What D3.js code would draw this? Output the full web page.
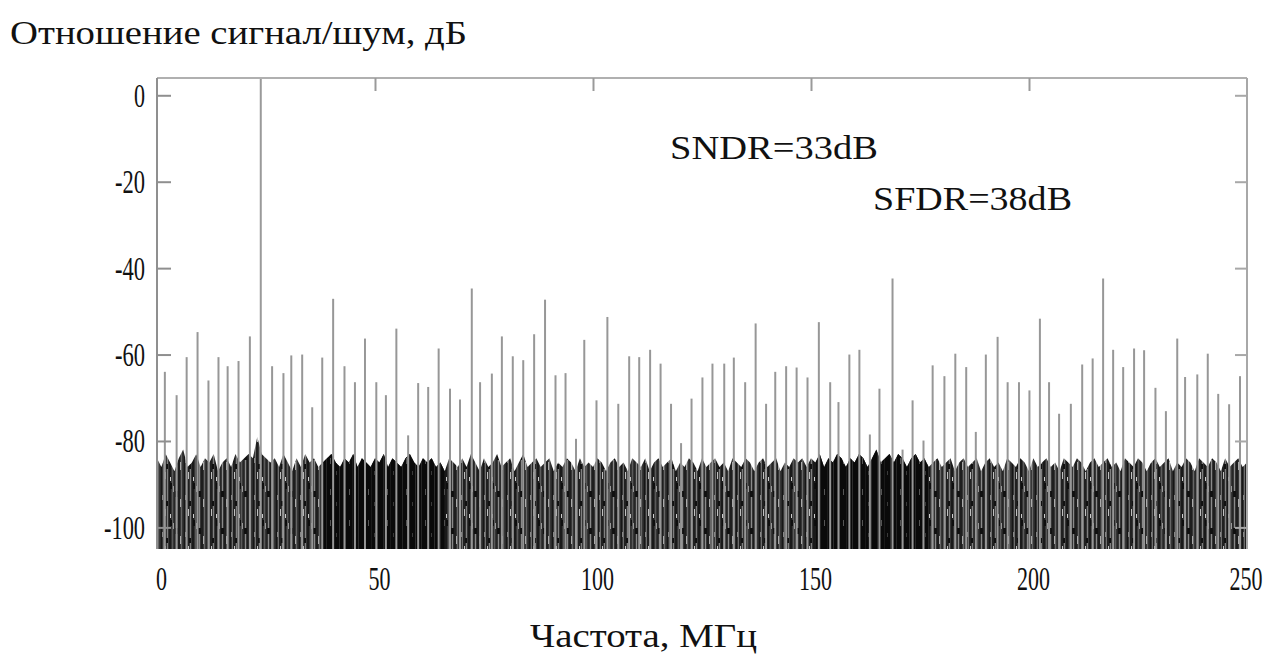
<!DOCTYPE html>
<html>
<head>
<meta charset="utf-8">
<script src="https://cdn.jsdelivr.net/npm/d3@7"></script>
<style>
  html, body { margin: 0; padding: 0; background: #fff; }
  svg { display: block; }
  text { font-family: "Liberation Serif", "Times New Roman", serif; fill: #111; }
</style>
</head>
<body>
<svg id="chart" width="1270" height="659"></svg>
<script>
// ---------- data ----------
const xTicks = [0, 50, 100, 150, 200, 250];
const yTicks = [0, -20, -40, -60, -80, -100];
const topTicks = [50, 100, 150, 200];
const sideTicks = [0, -20, -40, -60, -80, -100];

const fundamentalFreq = 23.8;   // MHz
const fundamentalLevel = 4;     // reaches the top of the frame

const spurFreq = [1.8, 4.5, 6.8, 9.3, 11.8, 14.1, 16.2, 18.7, 21.3, 26.4, 29.0, 30.8, 33.3, 35.6, 37.9,
  40.4, 43.0, 45.4, 47.7, 50.3, 52.5, 54.9, 57.6, 59.9, 62.2, 64.6, 67.2, 69.5, 72.2, 74.1, 76.8, 79.1,
  81.6, 84.0, 86.5, 89.0, 91.4, 93.7, 96.1, 98.0, 100.8, 103.3, 105.8, 108.3, 110.6, 113.1, 115.5, 117.9,
  120.2, 122.6, 125.1, 127.4, 130.1, 132.3, 134.9, 137.3, 139.7, 141.8, 144.3, 146.7, 149.2, 151.8, 154.4,
  156.3, 158.8, 161.1, 163.5, 165.7, 168.7, 171.0, 173.3, 175.8, 177.9, 180.6, 183.1, 185.6, 187.8, 190.1,
  192.8, 195.1, 197.7, 200.1, 202.5, 204.6, 206.9, 209.6, 212.2, 214.6, 217.0, 219.3, 221.6, 224.1, 226.4,
  229.0, 231.4, 234.0, 235.8, 238.6, 241.0, 243.4, 245.9, 248.4];
const spurLevel = [-64.0, -69.4, -60.6, -54.8, -66.0, -60.6, -62.7, -61.5, -55.8, -62.7, -64.3, -60.2, -60.0, -72.2, -60.7,
  -47.1, -62.7, -66.4, -56.3, -66.4, -69.4, -54.0, -78.7, -66.6, -67.5, -58.6, -67.9, -70.4, -44.7, -66.4, -64.4, -55.8,
  -60.4, -61.3, -55.3, -47.3, -64.8, -64.3, -79.5, -56.6, -70.6, -51.3, -71.4, -60.4, -60.6, -58.9, -62.1, -71.4,
  -80.5, -70.2, -65.3, -62.1, -62.1, -60.7, -66.4, -52.8, -71.4, -64.0, -62.7, -63.0, -65.3, -52.5, -66.4,
  -71.0, -60.0, -58.9, -78.5, -67.9, -42.4, -82.0, -70.6, -79.9, -62.5, -65.0, -59.8, -62.9, -77.9, -60.0,
  -55.9, -66.4, -66.4, -68.3, -51.7, -66.4, -73.7, -71.4, -62.3, -60.9, -42.4, -58.9, -62.9, -58.6, -59.0,
  -67.7, -73.1, -56.3, -65.2, -64.6, -59.8, -69.1, -71.5, -65.0];

// noise floor top (dB), one estimate per MHz from 0 to 250 MHz
const noiseStep = 1;
const noiseTop = [
  -84, -86, -83, -85, -87, -84, -82, -86, -85, -83,
  -86, -84, -85, -83, -87, -85, -84, -86, -83, -85,
  -84, -83, -84, -79, -83, -84, -85, -84, -86, -83,
  -85, -87, -84, -86, -83, -85, -84, -86, -85, -84,
  -83, -85, -86, -84, -85, -83, -86, -84, -85, -86,
  -84, -85, -83, -86, -84, -85, -86, -84, -83, -85,
  -86, -84, -85, -84, -86, -85, -87, -84, -85, -86,
  -84, -86, -83, -85, -87, -84, -86, -85, -83, -86,
  -85, -84, -87, -85, -83, -86, -85, -84, -86, -85,
  -84, -87, -85, -86, -84, -85, -87, -84, -86, -85,
  -86, -84, -85, -87, -85, -84, -86, -85, -87, -84,
  -85, -86, -84, -87, -85, -84, -86, -85, -84, -87,
  -85, -86, -84, -85, -87, -84, -86, -85, -84, -86,
  -85, -87, -84, -85, -86, -84, -85, -87, -85, -84,
  -86, -85, -84, -87, -85, -86, -84, -85, -84, -86,
  -84, -85, -83, -86, -84, -85, -83, -84, -86, -84,
  -85, -83, -84, -86, -84, -82, -85, -84, -83, -85,
  -83, -84, -86, -84, -83, -85, -84, -86, -85, -84,
  -86, -85, -84, -87, -85, -84, -86, -85, -84, -87,
  -85, -84, -86, -85, -87, -84, -85, -86, -84, -85,
  -87, -84, -86, -85, -84, -86, -85, -87, -84, -85,
  -86, -84, -85, -87, -85, -84, -86, -85, -84, -86,
  -85, -87, -84, -85, -86, -84, -85, -87, -85, -84,
  -86, -85, -84, -87, -85, -86, -84, -85, -87, -84,
  -85, -86, -84, -85, -87, -84, -86, -85, -84, -86,
  -85];
const noiseBottom = -105;
// frequency ranges where the noise floor is visibly denser (black)
const denseRanges = [[38, 66], [151, 177]];

const yTitle = "Отношение сигнал/шум, дБ";
const xTitle = "Частота, МГц";
const notes = ["SNDR=33dB", "SFDR=38dB"];

// ---------- chart ----------
const svg = d3.select("#chart");
const L = 157, R = 1247, T = 78, B = 549;
const x = d3.scaleLinear().domain([0, 250]).range([L, R]);
const y = d3.scaleLinear().domain([-105, 4]).range([B, T]);

const defs = svg.append("defs");
defs.append("clipPath").attr("id", "plotClip")
  .append("rect").attr("x", L).attr("y", T).attr("width", R - L).attr("height", B - T);

// textures for the noise floor
const pn = defs.append("pattern").attr("id", "noiseTex").attr("patternUnits", "userSpaceOnUse")
  .attr("width", 23).attr("height", 37);
pn.append("rect").attr("width", 23).attr("height", 37).attr("fill", "#363636");
[[0, 1, "#161616"], [2, 1, "#6e6e6e"], [3, 2, "#202020"], [6, 1, "#808080"], [8, 2, "#1a1a1a"],
 [11, 1, "#5a5a5a"], [13, 1, "#262626"], [15, 1, "#8a8a8a"], [17, 2, "#1e1e1e"], [20, 1, "#666"], [22, 1, "#2a2a2a"]]
  .forEach(s => pn.append("rect").attr("x", s[0]).attr("width", s[1]).attr("height", 37).attr("fill", s[2]));
[[14, 10, 3, 6, "#111"], [5, 20, 2, 5, "#111"], [9, 2, 2, 6, "#0e0e0e"],
 [4, 28, 1, 7, "#c0c0c0"], [12, 5, 1, 6, "#999"], [19, 18, 1, 8, "#aaa"], [9, 33, 1, 4, "#ccc"], [1, 14, 1, 5, "#888"]]
  .forEach(s => pn.append("rect").attr("x", s[0]).attr("y", s[1]).attr("width", s[2]).attr("height", s[3]).attr("fill", s[4]));

const pd = defs.append("pattern").attr("id", "denseTex").attr("patternUnits", "userSpaceOnUse")
  .attr("width", 19).attr("height", 31);
pd.append("rect").attr("width", 19).attr("height", 31).attr("fill", "#0a0a0a");
[[3, 1, "#262626"], [10, 1, "#1a1a1a"], [16, 1, "#2e2e2e"]]
  .forEach(s => pd.append("rect").attr("x", s[0]).attr("width", s[1]).attr("height", 31).attr("fill", s[2]));
[[7, 24, 1, 6, "#555"], [13, 6, 1, 4, "#3a3a3a"]]
  .forEach(s => pd.append("rect").attr("x", s[0]).attr("y", s[1]).attr("width", s[2]).attr("height", s[3]).attr("fill", s[4]));

const noiseData = noiseTop.map((v, i) => ({ f: i * noiseStep, v }));
const noiseArea = d3.area().x(d => x(d.f)).y0(y(noiseBottom)).y1(d => y(d.v));

defs.append("clipPath").attr("id", "noiseClip")
  .append("path").attr("d", noiseArea(noiseData));

const plot = svg.append("g").attr("clip-path", "url(#plotClip)");
plot.append("path").attr("d", noiseArea(noiseData)).attr("fill", "url(#noiseTex)");

plot.append("g").attr("clip-path", "url(#noiseClip)")
  .selectAll("rect").data(denseRanges).join("rect")
  .attr("x", d => x(d[0])).attr("width", d => x(d[1]) - x(d[0]))
  .attr("y", T).attr("height", B - T)
  .attr("fill", "url(#denseTex)");

// spurs
const spurs = spurFreq.map((f, i) => ({ f, v: spurLevel[i] }));
plot.append("g").selectAll("line").data(spurs).join("line")
  .attr("x1", d => x(d.f)).attr("x2", d => x(d.f))
  .attr("y1", y(noiseBottom)).attr("y2", d => y(d.v))
  .attr("stroke", "#979797").attr("stroke-width", 2);

// fundamental tone
plot.append("line")
  .attr("x1", x(fundamentalFreq)).attr("x2", x(fundamentalFreq))
  .attr("y1", y(noiseBottom)).attr("y2", y(fundamentalLevel))
  .attr("stroke", "#9a9a9a").attr("stroke-width", 2);

// frame
svg.append("line").attr("x1", L).attr("x2", R).attr("y1", T).attr("y2", T)
  .attr("stroke", "#b0b0b0").attr("stroke-width", 2);
svg.append("line").attr("x1", L).attr("x2", L).attr("y1", T).attr("y2", B)
  .attr("stroke", "#8f8f8f").attr("stroke-width", 2);
svg.append("line").attr("x1", R).attr("x2", R).attr("y1", T).attr("y2", B)
  .attr("stroke", "#a8a8a8").attr("stroke-width", 2);

// axes
const labelWidth = s => s.replace("-", "").length * 11 + (s.startsWith("-") ? 8 : 0);

const yAxis = svg.append("g").attr("transform", `translate(${L},0)`)
  .call(d3.axisLeft(y).tickValues(yTicks).tickSize(-14).tickPadding(12).tickFormat(d => String(d)));
yAxis.select(".domain").remove();
yAxis.selectAll(".tick line").attr("stroke", "#8f8f8f").attr("stroke-width", 2);
yAxis.selectAll(".tick text")
  .attr("font-size", 34).attr("font-family", "Liberation Serif").attr("fill", "#111")
  .attr("textLength", d => labelWidth(String(d))).attr("lengthAdjust", "spacingAndGlyphs");

const rAxis = svg.append("g").attr("transform", `translate(${R},0)`)
  .call(d3.axisRight(y).tickValues(sideTicks).tickSize(-12).tickFormat(""));
rAxis.select(".domain").remove();
rAxis.selectAll(".tick line").attr("stroke", "#a8a8a8").attr("stroke-width", 2);

const tAxis = svg.append("g").attr("transform", `translate(0,${T})`)
  .call(d3.axisTop(x).tickValues(topTicks).tickSize(-13).tickFormat(""));
tAxis.select(".domain").remove();
tAxis.selectAll(".tick line").attr("stroke", "#9a9a9a").attr("stroke-width", 2);

const xAxis = svg.append("g").attr("transform", `translate(0,${B})`)
  .call(d3.axisBottom(x).tickValues(xTicks).tickSize(0).tickPadding(17).tickFormat(d => String(d)));
xAxis.select(".domain").remove();
xAxis.selectAll(".tick text")
  .attr("font-size", 34).attr("font-family", "Liberation Serif").attr("fill", "#111")
  .attr("text-anchor", d => d === 250 ? "end" : "middle")
  .attr("dx", d => d === 250 ? 15 : 4)
  .attr("textLength", d => labelWidth(String(d))).attr("lengthAdjust", "spacingAndGlyphs");

// titles and annotations
svg.append("text").attr("x", 10).attr("y", 44).attr("font-size", 33)
  .attr("textLength", 457).attr("lengthAdjust", "spacingAndGlyphs").text(yTitle);
svg.append("text").attr("x", 530).attr("y", 647).attr("font-size", 34)
  .attr("textLength", 227).attr("lengthAdjust", "spacingAndGlyphs").text(xTitle);
svg.append("text").attr("x", 670).attr("y", 159).attr("font-size", 34)
  .attr("textLength", 208).attr("lengthAdjust", "spacingAndGlyphs").text(notes[0]);
svg.append("text").attr("x", 873).attr("y", 210).attr("font-size", 34)
  .attr("textLength", 199).attr("lengthAdjust", "spacingAndGlyphs").text(notes[1]);
</script>
</body>
</html>
